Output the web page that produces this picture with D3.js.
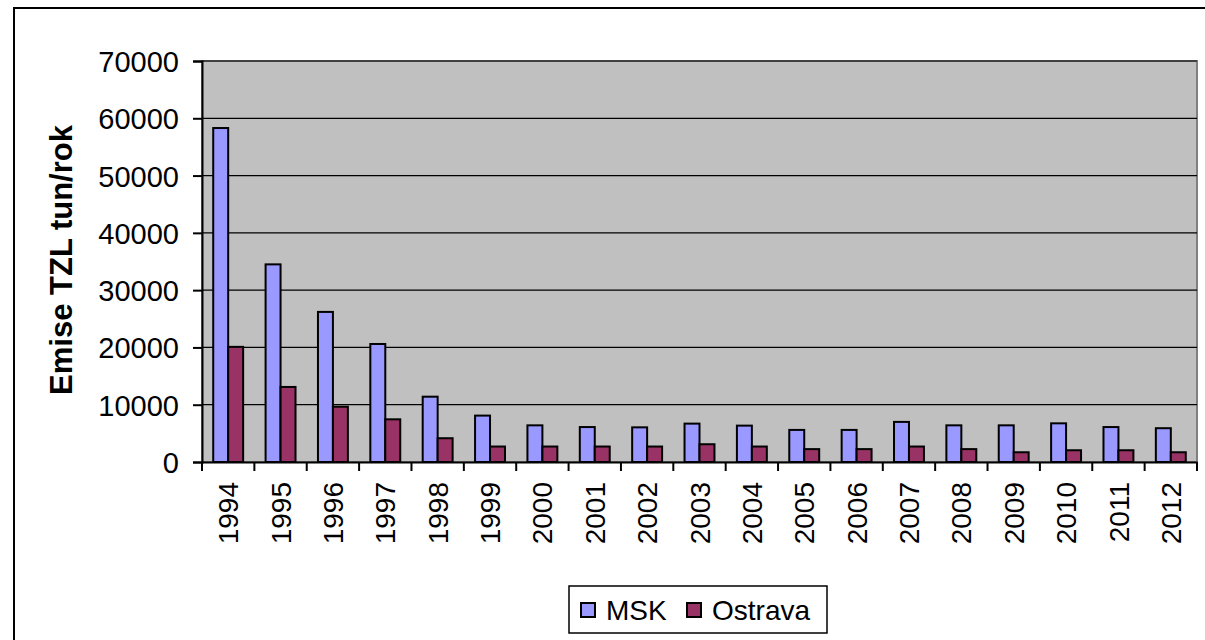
<!DOCTYPE html>
<html><head><meta charset="utf-8">
<script src="https://cdn.jsdelivr.net/npm/d3@7"></script>
<style>body{margin:0;background:#fff}svg{display:block}text{font-family:"Liberation Sans",Arial,sans-serif}</style>
</head><body><svg id="c" width="1205" height="640"></svg>
<script>
const years = ["1994","1995","1996","1997","1998","1999","2000","2001","2002","2003","2004","2005","2006","2007","2008","2009","2010","2011","2012"];
const msk = [58300,34500,26200,20600,11400,8100,6400,6100,6050,6700,6350,5600,5600,7000,6400,6400,6750,6100,5900];
const ostrava = [20100,13100,9650,7450,4150,2700,2700,2700,2700,3100,2700,2250,2250,2700,2250,1700,2050,2050,1700];
const seriesNames = ["MSK","Ostrava"];
const colors = ["#9999FF","#993366"];
const yTicks = [0,10000,20000,30000,40000,50000,60000,70000];

const svg = d3.select("#c");
const L = 202, R = 1197, T = 61, B = 462;

// outer frame
svg.append("rect").attr("x",14).attr("y",8).attr("width",1300).attr("height",700)
  .attr("fill","none").attr("stroke","#000").attr("stroke-width",2);

const x = d3.scaleBand().domain(years).range([L,R]).paddingInner(0).paddingOuter(0);
const sub = d3.scaleBand().domain(seriesNames).range([0,x.bandwidth()]).paddingInner(0).paddingOuter(0.75);
const y = d3.scaleLinear().domain([0,70000]).range([B,T]);

svg.append("rect").attr("x",L).attr("y",T).attr("width",R-L).attr("height",B-T)
  .attr("fill","#C0C0C0").attr("stroke","#808080").attr("stroke-width",2);

svg.append("g").selectAll("line").data(yTicks.slice(1)).join("line")
  .attr("x1",L).attr("x2",R).attr("y1",d=>y(d)).attr("y2",d=>y(d))
  .attr("stroke","#000").attr("stroke-width",1.2);

const groups = svg.append("g").selectAll("g").data(years).join("g")
  .attr("transform",d=>`translate(${x(d)},0)`);
groups.selectAll("rect").data((d,i)=>[{s:"MSK",v:msk[i]},{s:"Ostrava",v:ostrava[i]}]).join("rect")
  .attr("x",d=>sub(d.s)).attr("width",sub.bandwidth())
  .attr("y",d=>y(d.v)).attr("height",d=>B-y(d.v))
  .attr("fill",d=>colors[seriesNames.indexOf(d.s)])
  .attr("stroke","#000").attr("stroke-width",2);

// y axis
const ya = svg.append("g").attr("transform",`translate(${L},0)`)
  .call(d3.axisLeft(y).tickValues(yTicks).tickFormat(d3.format("d")).tickSize(9).tickPadding(14));
ya.select(".domain").attr("stroke","#000").attr("stroke-width",2);
ya.selectAll(".tick line").attr("stroke","#000").attr("stroke-width",2);
ya.selectAll("text").attr("font-size",29).attr("fill","#000").attr("dy","0.36em");

// x axis
const xa = svg.append("g").attr("transform",`translate(0,${B})`)
  .call(d3.axisBottom(x).tickSize(0).tickPadding(0));
xa.select(".domain").attr("stroke","#000").attr("stroke-width",2);
xa.selectAll(".tick text").attr("font-size",28).attr("fill","#000")
  .attr("text-anchor","end").attr("dy","0.36em")
  .attr("transform","translate(0,20) rotate(-90)");
const bounds = years.map(d=>x(d)).concat([R]);
xa.selectAll("line.bt").data(bounds).join("line").attr("class","bt")
  .attr("x1",d=>d).attr("x2",d=>d).attr("y1",0).attr("y2",9)
  .attr("stroke","#000").attr("stroke-width",2);

// y title
svg.append("text").attr("transform","translate(72,260) rotate(-90)")
  .attr("text-anchor","middle").attr("font-size",31).attr("font-weight","bold")
  .attr("fill","#000").text("Emise TZL tun/rok");

// legend
const lg = svg.append("g");
lg.append("rect").attr("x",569).attr("y",586).attr("width",258).attr("height",47)
  .attr("fill","#fff").attr("stroke","#000").attr("stroke-width",1.5);
const items = [{n:"MSK",x:581,tx:606},{n:"Ostrava",x:687,tx:712}];
items.forEach((it,i)=>{
  lg.append("rect").attr("x",it.x).attr("y",603).attr("width",14).attr("height",14)
    .attr("fill",colors[i]).attr("stroke","#000").attr("stroke-width",2);
  lg.append("text").attr("x",it.tx).attr("y",610).attr("dy","0.36em").attr("font-size",28)
    .attr("fill","#000").text(it.n);
});
</script></body></html>
